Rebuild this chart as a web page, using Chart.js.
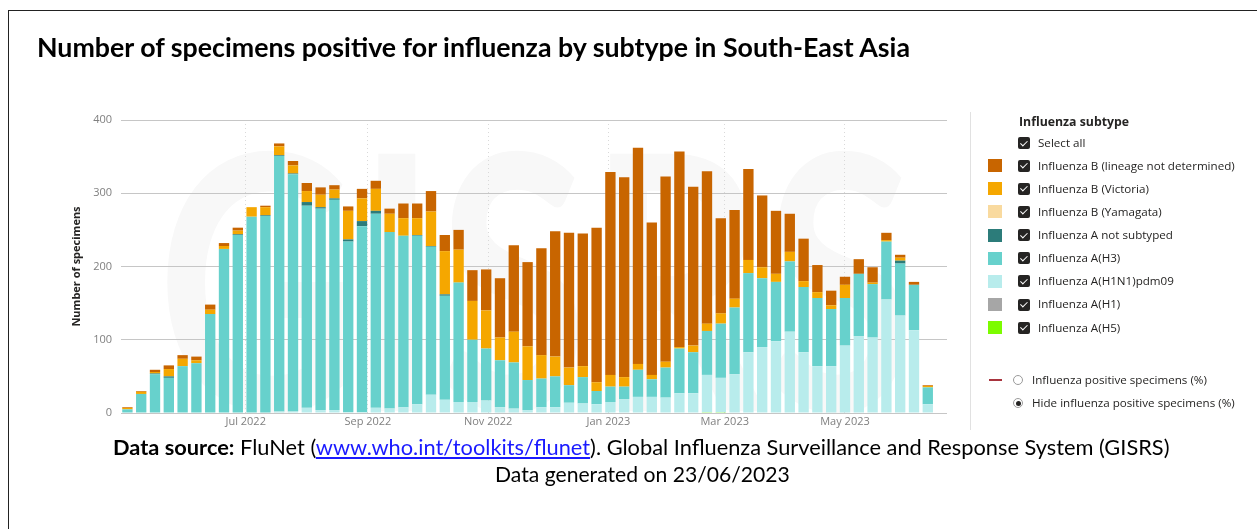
<!DOCTYPE html>
<html><head><meta charset="utf-8">
<script src="https://cdn.jsdelivr.net/npm/chart.js@4.4.0/dist/chart.umd.min.js"></script>
<style>
html,body{margin:0;padding:0;background:#fff;width:1257px;height:529px;overflow:hidden;}
#frame{position:absolute;left:8px;top:10px;width:1300px;height:600px;border-top:1px solid #222;border-left:1px solid #222;}
#c{position:absolute;left:0;top:0;}
.t{position:absolute;white-space:nowrap;line-height:1;}
#title{font-family:Lato,sans-serif;font-weight:700;color:#000;}
.foot{font-family:Lato,sans-serif;color:#000;}
.foot b{font-weight:700;}
.foot a{color:#1a1aff;text-decoration:underline;}
.leg{font-family:"Open Sans",sans-serif;color:#252423;}
#legTitle{font-weight:700;}
.sw{position:absolute;width:14px;height:13px;}
.cb{position:absolute;width:12px;height:12px;background:#252423;border-radius:2px;}
.cb::after{content:'';position:absolute;left:4px;top:1.5px;width:2.5px;height:6px;border:solid #fff;border-width:0 1.5px 1.5px 0;transform:rotate(45deg);}
.rd{position:absolute;width:8px;height:8px;border:1px solid #9a9a9a;border-radius:50%;background:#fff;}
.rd.on::after{content:'';position:absolute;left:1.5px;top:1.5px;width:5px;height:5px;border-radius:50%;background:#252423;}
#sep{position:absolute;left:970px;top:112px;width:1px;height:318px;background:#e1e1e1;}
#pline{position:absolute;left:989px;top:379px;width:13px;height:2px;background:#a8343e;}
</style></head>
<body>
<div id="frame"></div>
<canvas id="c" width="1257" height="529"></canvas>
<div id="sep"></div>
<div id="pline"></div>
<div class="t" id="title">Number of specimens positive for influenza by subtype in South-East Asia</div>
<div class="t foot" id="foot1"><b>Data source:</b> FluNet (<a>www.who.int/toolkits/flunet</a>). Global Influenza Surveillance and Response System (GISRS)</div>
<div class="t foot" id="foot2">Data generated on 23/06/2023</div>
<div id="legend"></div>
<script>
// ---------- DATA ----------
const weeks = ["2022-05-02","2022-05-09","2022-05-16","2022-05-23","2022-05-30","2022-06-06","2022-06-13","2022-06-20","2022-06-27",
"2022-07-04","2022-07-11","2022-07-18","2022-07-25","2022-08-01","2022-08-08","2022-08-15","2022-08-22","2022-08-29",
"2022-09-05","2022-09-12","2022-09-19","2022-09-26","2022-10-03","2022-10-10","2022-10-17","2022-10-24","2022-10-31",
"2022-11-07","2022-11-14","2022-11-21","2022-11-28","2022-12-05","2022-12-12","2022-12-19","2022-12-26",
"2023-01-02","2023-01-09","2023-01-16","2023-01-23","2023-01-30","2023-02-06","2023-02-13","2023-02-20","2023-02-27",
"2023-03-06","2023-03-13","2023-03-20","2023-03-27","2023-04-03","2023-04-10","2023-04-17","2023-04-24",
"2023-05-01","2023-05-08","2023-05-15","2023-05-22","2023-05-29","2023-06-05","2023-06-12"];
const tickDates = ["2022-07-01","2022-09-01","2022-11-01","2023-01-01","2023-03-01","2023-05-01"];
const tickLabels = ["Jul 2022","Sep 2022","Nov 2022","Jan 2023","Mar 2023","May 2023"];
const yTicks = [0,100,200,300,400];

const bLineageND = [1,1,3,5,5,5,7,4,4,0,2,4,6,11,10,6,6,13,11,7,20,20,28,22,27,42,56,81,118,115,146,171,184,181,211,277,273,295,208,253,267,217,208,130,121,124,98,86,52,58,37,20,11,20,21,10,4,4,1];
const bVictoria  = [2,3,2,10,10,4,6,4,5,13,11,12,11,15,17,12,39,31,30,25,24,23,47,59,45,53,52,31,42,46,32,27,24,15,12,16,13,8,6,8,2,9,10,14,12,18,15,11,13,8,8,5,18,0,2,2,4,0,2];
const bYamagata  = [0,0,0,0,0,0,0,0,0,0,0,0,0,0,0,0,0,0,0,0,0,0,0,0,0,0,0,0,0,0,0,0,0,0,0,0,0,0,0,0,0,0,0,0,0,0,0,0,0,0,0,0,0,0,0,0,0,0,0];
const aNotSubtyped = [0,0,1,2,0,0,0,0,1,0,1,1,1,5,2,2,3,7,4,0,0,1,1,2,0,0,0,0,0,0,0,0,0,0,0,0,0,0,0,0,0,0,0,0,0,0,0,0,0,0,0,0,0,0,0,0,4,0,0];
const aH3        = [5,26,53,48,64,68,135,224,243,268,269,349,324,276,275,287,233,254,265,241,234,230,202,142,163,85,71,64,63,41,39,42,24,36,18,21,17,37,24,41,61,56,60,74,91,108,94,81,96,89,93,78,65,85,73,79,71,62,23];
const aH1N1pdm09 = [0,0,0,0,0,0,0,0,0,0,0,2,2,7,4,4,1,1,7,6,8,12,25,18,15,15,17,8,6,4,8,8,14,13,12,15,19,22,22,21,27,27,51,47,53,83,90,98,111,83,64,64,92,105,103,155,133,113,12];
const aH1        = [0,0,0,0,0,0,0,0,0,0,0,0,0,0,0,0,0,0,0,0,0,0,0,0,0,0,0,0,0,0,0,0,0,0,0,0,0,0,0,0,0,0,0,0,0,0,0,0,0,0,0,0,0,0,0,0,0,0,0];
const aH5        = [0,0,0,0,0,0,0,0,0,0,0,0,0,0,0,0,0,0,0,0,0,0,0,0,0,0,0,0,0,0,0,0,0,0,0,0,0,0,0,0,0,0,1,1,0,0,0,0,0,0,0,0,0,0,0,0,0,0,0];

const legendNames = ["Influenza B (lineage not determined)","Influenza B (Victoria)","Influenza B (Yamagata)","Influenza A not subtyped","Influenza A(H3)","Influenza A(H1N1)pdm09","Influenza A(H1)","Influenza A(H5)"];
const legendValues = [bLineageND,bVictoria,bYamagata,aNotSubtyped,aH3,aH1N1pdm09,aH1,aH5];
// ---------- STYLE ----------
const colors = ["#C86500","#F5A700","#F9DA9F","#2C7C7A","#67D1CC","#B8ECEC","#A6A6A6","#7CFC00"];
const FONT = '"Open Sans", sans-serif';

const d0 = Date.parse(weeks[0]);
const day = s => (Date.parse(s) - d0) / 864e5;

// stack bottom -> top : reverse of legend order
const datasets = [];
for (let i = legendNames.length - 1; i >= 0; i--) {
  datasets.push({
    label: legendNames[i],
    data: weeks.map((w, k) => ({x: day(w), y: legendValues[i][k]})),
    backgroundColor: colors[i],
    borderWidth: 0,
    barPercentage: 0.75,
    categoryPercentage: 1
  });
}

const watermark = {
  id: 'wm',
  beforeDraw(chart) {
    const {ctx, chartArea} = chart;
    ctx.save();
    ctx.font = 'bold 356px Lato';
    const txt = 'GISRS';
    const w = ctx.measureText(txt).width;
    ctx.fillStyle = '#f8f8f8';
    ctx.translate(chartArea.left + 36, chartArea.bottom - 2);
    ctx.scale(758 / w, 1);
    ctx.fillText(txt, 0, 0);
    ctx.restore();
  }
};

new Chart(document.getElementById('c'), {
  type: 'bar',
  data: {datasets},
  plugins: [watermark],
  options: {
    responsive: false, animation: false, devicePixelRatio: 1,
    layout: {padding: {left: 66, top: 120, right: 310, bottom: 0}},
    plugins: {legend: {display: false}, tooltip: {enabled: false}},
    scales: {
      x: {
        type: 'linear', stacked: true, offset: false,
        min: -3.25, max: 415.75,
        afterBuildTicks: s => { s.ticks = tickDates.map(d => ({value: day(d)})); },
        afterFit: s => { s.height = 116; },
        ticks: {callback: (v, i) => tickLabels[i], color: '#808080', font: {size: 11, family: FONT}, padding: 2, maxRotation: 0, autoSkip: false},
        grid: {color: '#d9d9d9', drawTicks: false, offset: false, lineWidth: 1},
        border: {display: false, dash: [1, 3]}
      },
      y: {
        stacked: true, min: 0, max: 400,
        afterBuildTicks: s => { s.ticks = yTicks.map(v => ({value: v})); },
        afterFit: s => { s.width = 55; },
        ticks: {color: '#808080', font: {size: 11, family: FONT}, padding: 9},
        grid: {color: '#c6c6c6', drawTicks: false, lineWidth: 1},
        border: {display: false},
        title: {display: true, text: 'Number of specimens', color: '#252423', font: {size: 11, weight: 'bold', family: FONT}, padding: {top: 4, bottom: 4}}
      }
    }
  }
});

// ---------- TEXT / LEGEND ----------
function fit(el, target) {
  el.style.fontSize = '20px';
  const w = el.getBoundingClientRect().width;
  const s = 20 * target / w;
  el.style.fontSize = s + 'px';
  return s;
}
function place(el, x, baseline, target, center) {
  const s = fit(el, target);
  el.style.top = (baseline - 0.888 * s) + 'px';
  el.style.left = (center ? x - target / 2 : x) + 'px';
}
place(document.getElementById('title'), 37, 57.5, 873, false);
place(document.getElementById('foot1'), 641.5, 455, 1057, true);
place(document.getElementById('foot2'), 642.5, 483, 295, true);

const leg = document.getElementById('legend');
function mkText(txt, x, yc, size, cls) {
  const el = document.createElement('div');
  el.className = 't leg' + (cls ? ' ' + cls : '');
  el.textContent = txt;
  el.style.fontSize = size + 'px';
  el.style.left = x + 'px';
  el.style.top = (yc + 0.36 * size - 0.888 * size) + 'px';
  leg.appendChild(el);
  return el;
}
function sizeFor(txt, target, cls) {
  const el = mkText(txt, 0, 0, 20, cls);
  const w = el.getBoundingClientRect().width;
  leg.removeChild(el);
  return 20 * target / w;
}
function mkBox(cls, x, yc, h, bg) {
  const el = document.createElement('div');
  el.className = cls;
  el.style.left = x + 'px';
  el.style.top = (yc - h / 2) + 'px';
  if (bg) el.style.background = bg;
  leg.appendChild(el);
  return el;
}
const titleSize = sizeFor('Influenza subtype', 102);
const tt = mkText('Influenza subtype', 1019, 122.5, titleSize);
tt.style.fontWeight = '700';
const rowSize = sizeFor(legendNames[0], 197);
mkBox('cb', 1018, 143.3, 12);
mkText('Select all', 1038, 143.3, rowSize);
legendNames.forEach((n, i) => {
  const yc = 165.7 + i * 23.14;
  mkBox('sw', 988, yc, 13, colors[i]);
  mkBox('cb', 1018, yc, 12);
  mkText(n, 1038, yc, rowSize);
});
const radSize = sizeFor('Hide influenza positive specimens (%)', 203);
mkBox('rd', 1013, 380, 10);
mkText('Influenza positive specimens (%)', 1032, 380, radSize);
mkBox('rd on', 1013, 403.3, 10);
mkText('Hide influenza positive specimens (%)', 1032, 403.3, radSize);
</script>
</body></html>
